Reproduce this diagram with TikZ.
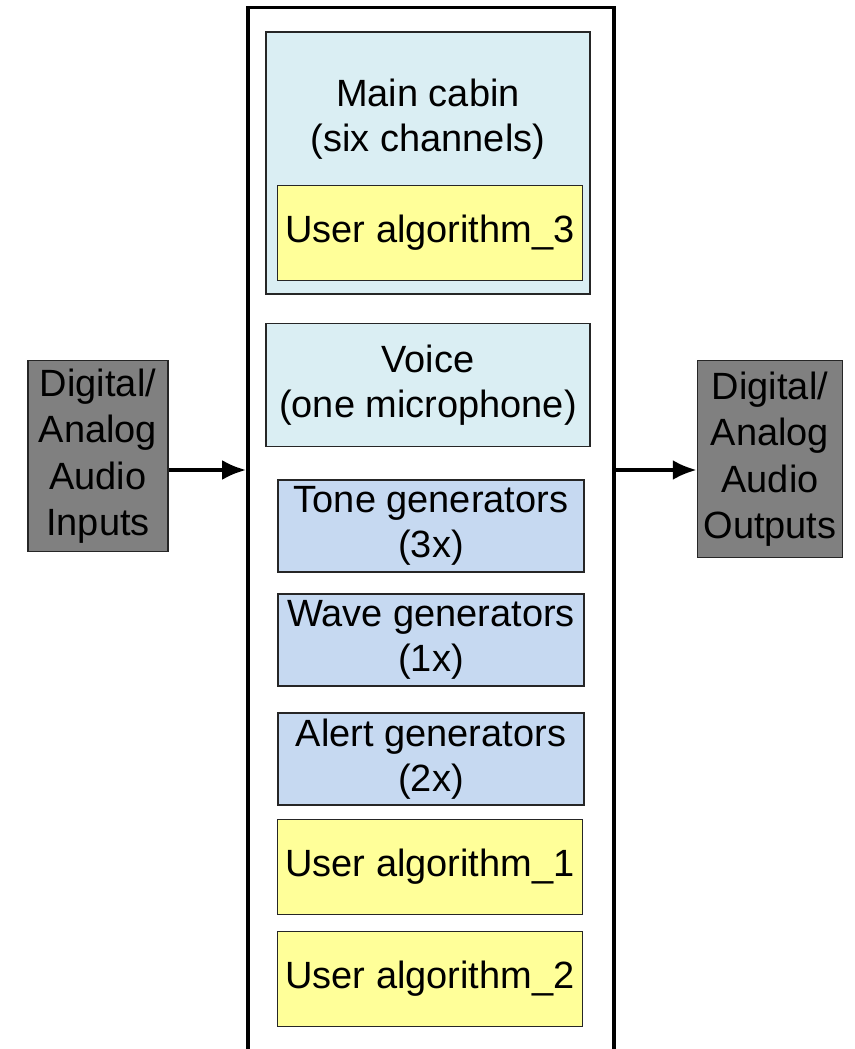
\documentclass[tikz,border=0pt]{standalone}
\usepackage{fontspec}
\setmainfont{Liberation Sans}
\usepackage{tikz}
\usetikzlibrary{arrows,arrows.meta,positioning,calc}
\tikzset{>={Latex[length=2.4mm,width=2mm]}}
\definecolor{cabinblue}{HTML}{DAEEF3}
\definecolor{genblue}{HTML}{C6D9F1}
\definecolor{useryellow}{HTML}{FFFF99}
\definecolor{iogray}{HTML}{808080}

\begin{document}
\begin{tikzpicture}[x=0.01cm,y=-0.01cm,
  box/.style={draw=black!85,line width=0.4pt,inner sep=0pt,align=center,font=\fontsize{10.8}{12.8}\selectfont},
  chan/.style={box,fill=cabinblue,minimum width=3.24cm},
  gen/.style={box,fill=genblue,minimum width=3.06cm,minimum height=0.92cm},
  user/.style={box,fill=useryellow,minimum width=3.05cm,minimum height=0.95cm},
  io/.style={box,fill=iogray,font=\fontsize{10.8}{13.2}\selectfont}]
\useasboundingbox (0,0) rectangle (854,1049);
\node[draw=black,line width=1pt,minimum width=3.66cm,minimum height=10.62cm,inner sep=0pt] (dsp) at (431,539) {};
\node[chan,minimum height=2.62cm] (cabin) at (428,163) {};
\node[align=center,font=\fontsize{10.8}{12.8}\selectfont] (cabintxt) at (428,119) {Main cabin\\(six channels)};
\node[user] (ua3) at (430,233) {User algorithm\_3};
\node[chan,minimum height=1.23cm] (voice) at (428,385) {Voice\\(one microphone)};
\node[gen] (tone) at (431,526) {Tone generators\\(3x)};
\node[gen] (wave) at (431,640) {Wave generators\\(1x)};
\node[gen] (alert) at (431,759) {Alert generators\\(2x)};
\node[user] (ua1) at (430,867) {User algorithm\_1};
\node[user] (ua2) at (430,979) {User algorithm\_2};
\node[io,minimum width=1.40cm,minimum height=1.91cm] (inputs) at (98,456) {Digital/\\Analog\\Audio\\Inputs};
\node[io,minimum width=1.45cm,minimum height=1.97cm] (outputs) at (770,459) {Digital/\\Analog\\Audio\\Outputs};
\coordinate (mid) at (0,470);
\begin{scope}[line width = 1.1pt]
\draw[->] (inputs.east |- mid) to (dsp.west |- mid);
\draw[->] (dsp.east |- mid) to (outputs.west |- mid);
\end{scope}
\end{tikzpicture}
\end{document}
